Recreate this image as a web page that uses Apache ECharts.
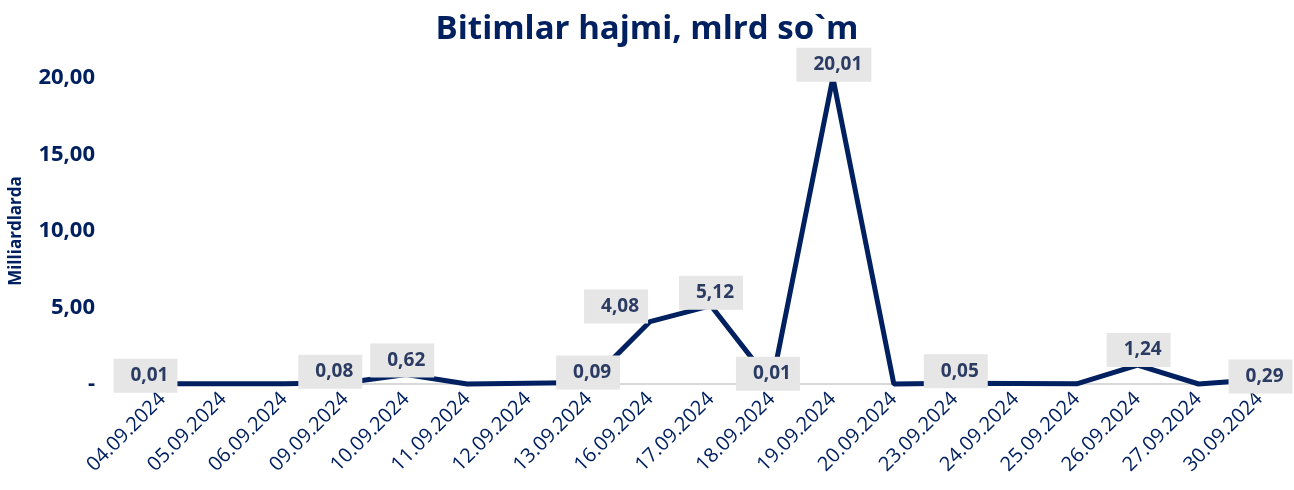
<!DOCTYPE html>
<html>
<head>
    <meta charset="utf-8">
    <style>
        html, body { margin: 0; padding: 0; background: #fff; }
        #chart-container { width: 1294px; height: 490px; }
    </style>
</head>
<body>
    <div id="chart-container"></div>
    <script src="https://cdn.jsdelivr.net/npm/echarts@6/dist/echarts.min.js"></script>
    <script>
        // data
        var dates = ['04.09.2024', '05.09.2024', '06.09.2024', '09.09.2024', '10.09.2024',
            '11.09.2024', '12.09.2024', '13.09.2024', '16.09.2024', '17.09.2024',
            '18.09.2024', '19.09.2024', '20.09.2024', '23.09.2024', '24.09.2024',
            '25.09.2024', '26.09.2024', '27.09.2024', '30.09.2024'];
        var volumes = [0.01, 0.01, 0.01, 0.08, 0.62, 0.00, 0.05, 0.09, 4.08, 5.12,
            0.01, 20.01, 0.00, 0.05, 0.03, 0.01, 1.24, 0.00, 0.29];
        var labelled = [0, 3, 4, 7, 8, 9, 10, 11, 13, 16, 18];
        var yTicks = [0, 5, 10, 15, 20];

        var navy = '#002060';

        // where each shown label sits relative to its point
        var labelPos = {
            0: [-17, -8], 3: [-15, -11], 4: [-4, -14], 7: [-1, -10], 8: [-34, -15],
            9: [0, -13], 10: [-4, -10], 11: [1, -13], 13: [1, -12], 16: [1, -15], 18: [1, -3]
        };

        function fmt(v) {
            return v.toFixed(2).replace('.', ',');
        }

        var seriesData = volumes.map(function (v, i) {
            var item = { value: v };
            if (labelled.indexOf(i) >= 0) {
                var p = labelPos[i];
                item.label = { show: true, position: 'inside', offset: [p[0], p[1]] };
                // wider box for the five-character label
                if (v >= 10) item.label.width = 51;
            }
            return item;
        });

        var myChart = echarts.init(document.getElementById('chart-container'));
        var option = {
            animation: false,
            title: {
                text: 'Bitimlar hajmi, mlrd so`m',
                left: 'center',
                top: 8,
                textStyle: { fontFamily: 'Open Sans', fontSize: 33, fontWeight: 'bold', color: navy }
            },
            grid: { left: 131, right: 4, top: 78, bottom: 106 },
            xAxis: {
                type: 'category',
                data: dates,
                boundaryGap: true,
                axisLine: { lineStyle: { color: '#d9d9d9', width: 2 } },
                axisTick: { show: false },
                axisLabel: {
                    rotate: 45,
                    interval: 0,
                    margin: 12,
                    fontFamily: 'Open Sans',
                    fontSize: 20,
                    color: navy
                }
            },
            yAxis: {
                type: 'value',
                min: yTicks[0],
                max: yTicks[yTicks.length - 1],
                interval: 5,
                name: 'Milliardlarda',
                nameLocation: 'middle',
                nameGap: 107,
                nameTextStyle: { fontFamily: 'Open Sans', fontSize: 17, fontWeight: 'bold', color: navy },
                axisLine: { show: false },
                axisTick: { show: false },
                splitLine: { show: false },
                axisLabel: {
                    margin: 37,
                    fontFamily: 'Open Sans',
                    fontSize: 22,
                    fontWeight: 'bold',
                    color: navy,
                    formatter: function (v) { return v === 0 ? '-' : fmt(v); }
                }
            },
            series: [{
                type: 'line',
                data: seriesData,
                clip: false,
                symbol: 'circle',
                symbolSize: 0,
                showSymbol: true,
                lineStyle: { color: navy, width: 5 },
                itemStyle: { color: navy },
                label: {
                    show: false,
                    formatter: function (p) { return fmt(p.value); },
                    fontFamily: 'Open Sans',
                    fontSize: 19,
                    fontWeight: 'bold',
                    color: '#2b3b62',
                    backgroundColor: '#e6e6e6',
                    align: 'center',
                    verticalAlign: 'middle',
                    width: 40,
                    height: 20,
                    padding: [7, 8, 7, 16],
                    textAlign: 'right'
                }
            }]
        };
        myChart.setOption(option);
    </script>
</body>
</html>
